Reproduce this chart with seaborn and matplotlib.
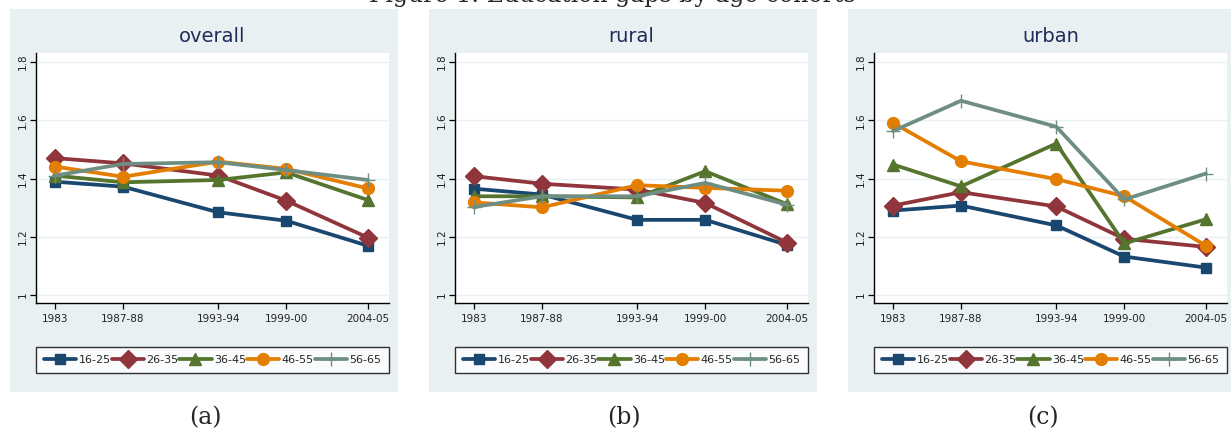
import matplotlib
matplotlib.use("Agg")
import matplotlib.pyplot as plt
from matplotlib.patches import Rectangle
import numpy as np
import pandas as pd
import seaborn as sns

# Survey rounds (NSS round numbers set the spacing on the x axis) and their labels
rounds = [38, 43, 50, 55, 61]
round_labels = ["1983", "1987-88", "1993-94", "1999-00", "2004-05"]
cohorts = ["16-25", "26-35", "36-45", "46-55", "56-65"]

# Education gap by cohort, one list per cohort
overall_16_25 = [1.389, 1.372, 1.284, 1.255, 1.169]
overall_26_35 = [1.470, 1.452, 1.410, 1.324, 1.197]
overall_36_45 = [1.410, 1.387, 1.395, 1.421, 1.326]
overall_46_55 = [1.441, 1.406, 1.458, 1.433, 1.366]
overall_56_65 = [1.410, 1.450, 1.456, 1.429, 1.395]

rural_16_25 = [1.365, 1.345, 1.258, 1.258, 1.172]
rural_26_35 = [1.408, 1.382, 1.362, 1.316, 1.180]
rural_36_45 = [1.339, 1.339, 1.335, 1.425, 1.312]
rural_46_55 = [1.318, 1.301, 1.377, 1.368, 1.358]
rural_56_65 = [1.302, 1.339, 1.339, 1.385, 1.310]

urban_16_25 = [1.290, 1.307, 1.239, 1.132, 1.094]
urban_26_35 = [1.307, 1.353, 1.304, 1.193, 1.165]
urban_36_45 = [1.448, 1.373, 1.520, 1.177, 1.260]
urban_46_55 = [1.591, 1.459, 1.398, 1.339, 1.169]
urban_56_65 = [1.563, 1.667, 1.578, 1.328, 1.417]

panel_titles = ["overall", "rural", "urban"]
panel_captions = ["(a)", "(b)", "(c)"]
panel_series = [
    [overall_16_25, overall_26_35, overall_36_45, overall_46_55, overall_56_65],
    [rural_16_25, rural_26_35, rural_36_45, rural_46_55, rural_56_65],
    [urban_16_25, urban_26_35, urban_36_45, urban_46_55, urban_56_65],
]
y_ticks = [1.0, 1.2, 1.4, 1.6, 1.8]
y_tick_labels = ["1", "1.2", "1.4", "1.6", "1.8"]

palette = ["#1A476F", "#90353B", "#55752F", "#E37E00", "#6E8E84"]
# seaborn only accepts filled markers together; the last cohort gets a thin plus afterwards
style_markers = ["s", "D", "^", "o", "P"]
final_markers = ["s", "D", "^", "o", "+"]
marker_sizes = [7.5, 9.5, 9, 8.5, 10]
region_color = "#E9F0F2"
title_color = "#1F2D5A"

sns.set_style("white")
plt.rcParams["font.family"] = ["DejaVu Sans"]

W, H = 1231, 433
fig = plt.figure(figsize=(W / 100, H / 100), dpi=100)
fig.patch.set_facecolor("white")


def fx(px):
    return px / W


def fy(py):
    return 1 - py / H


panel_lefts = [10, 429, 848]
panel_width = 388
panel_top, panel_bottom = 9, 392
plot_off_left, plot_width = 26, 353
plot_top, plot_bottom = 53, 303

for i, left in enumerate(panel_lefts):
    # graph region background, kept behind the axes
    fig.patches.append(Rectangle((fx(left), fy(panel_bottom)),
                                 fx(panel_width), (panel_bottom - panel_top) / H,
                                 transform=fig.transFigure, facecolor=region_color,
                                 edgecolor="none", zorder=-5))
    pl = left + plot_off_left
    ax = fig.add_axes([fx(pl), fy(plot_bottom), fx(plot_width),
                       (plot_bottom - plot_top) / H])
    ax.set_facecolor("white")
    ax.set_zorder(1)

    df = pd.DataFrame({
        "round": np.tile(rounds, len(cohorts)),
        "gap": np.concatenate(panel_series[i]),
        "cohort": np.repeat(cohorts, len(rounds)),
    })
    sns.lineplot(data=df, x="round", y="gap", hue="cohort", style="cohort",
                 hue_order=cohorts, style_order=cohorts, palette=palette,
                 markers=style_markers, dashes=False, linewidth=2.7, legend=False,
                 ax=ax, zorder=3)
    lines = ax.get_lines()
    for ln, mk, ms in zip(lines, final_markers, marker_sizes):
        ln.set_marker(mk)
        ln.set_markeredgecolor(ln.get_color())
        ln.set_markerfacecolor(ln.get_color())
        ln.set_markersize(ms)
        ln.set_markeredgewidth(1.0)
        ln.set_solid_joinstyle("round")

    ax.set_xlim(36.6, 62.55)
    ax.set_ylim(0.9725, 1.831)
    ax.set_xticks(rounds)
    ax.set_xticklabels(round_labels, fontsize=7.5, color="#222222")
    ax.set_yticks(y_ticks)
    ax.set_yticklabels(y_tick_labels, fontsize=7.5, rotation=90, va="center",
                       color="#222222")
    ax.set_xlabel("")
    ax.set_ylabel("")
    ax.grid(axis="y", color=region_color, linewidth=1.0, zorder=0)
    ax.grid(axis="x", visible=False)
    for side in ["top", "right"]:
        ax.spines[side].set_visible(False)
    for side in ["left", "bottom"]:
        ax.spines[side].set_color("black")
        ax.spines[side].set_linewidth(1.0)
    ax.tick_params(axis="both", direction="out", length=4, width=0.9,
                   color="black", left=True, bottom=True)
    ax.tick_params(axis="x", pad=4)
    ax.tick_params(axis="y", pad=2)

    fig.text(fx(pl + plot_width / 2), fy(37), panel_titles[i], fontsize=14,
             color=title_color, ha="center", va="center")

    leg = ax.legend(lines, cohorts, loc="center",
                    bbox_to_anchor=(fx(left + 202.5), fy(360)),
                    bbox_transform=fig.transFigure, ncol=5, frameon=True,
                    fancybox=False, edgecolor="black", facecolor="white",
                    fontsize=8, handlelength=2.9, columnspacing=0.1,
                    handletextpad=0.2, borderpad=0.75, borderaxespad=0)
    leg.get_frame().set_linewidth(1.0)

    fig.text(fx(left + 195), fy(418), panel_captions[i], fontsize=17,
             family="DejaVu Serif", ha="center", va="center")

fig.text(fx(612), fy(2), "Figure 1: Education gaps by age cohorts",
         fontsize=17, family="DejaVu Serif", ha="center", va="baseline")

fig.savefig("out.png", dpi=100, facecolor="white")
